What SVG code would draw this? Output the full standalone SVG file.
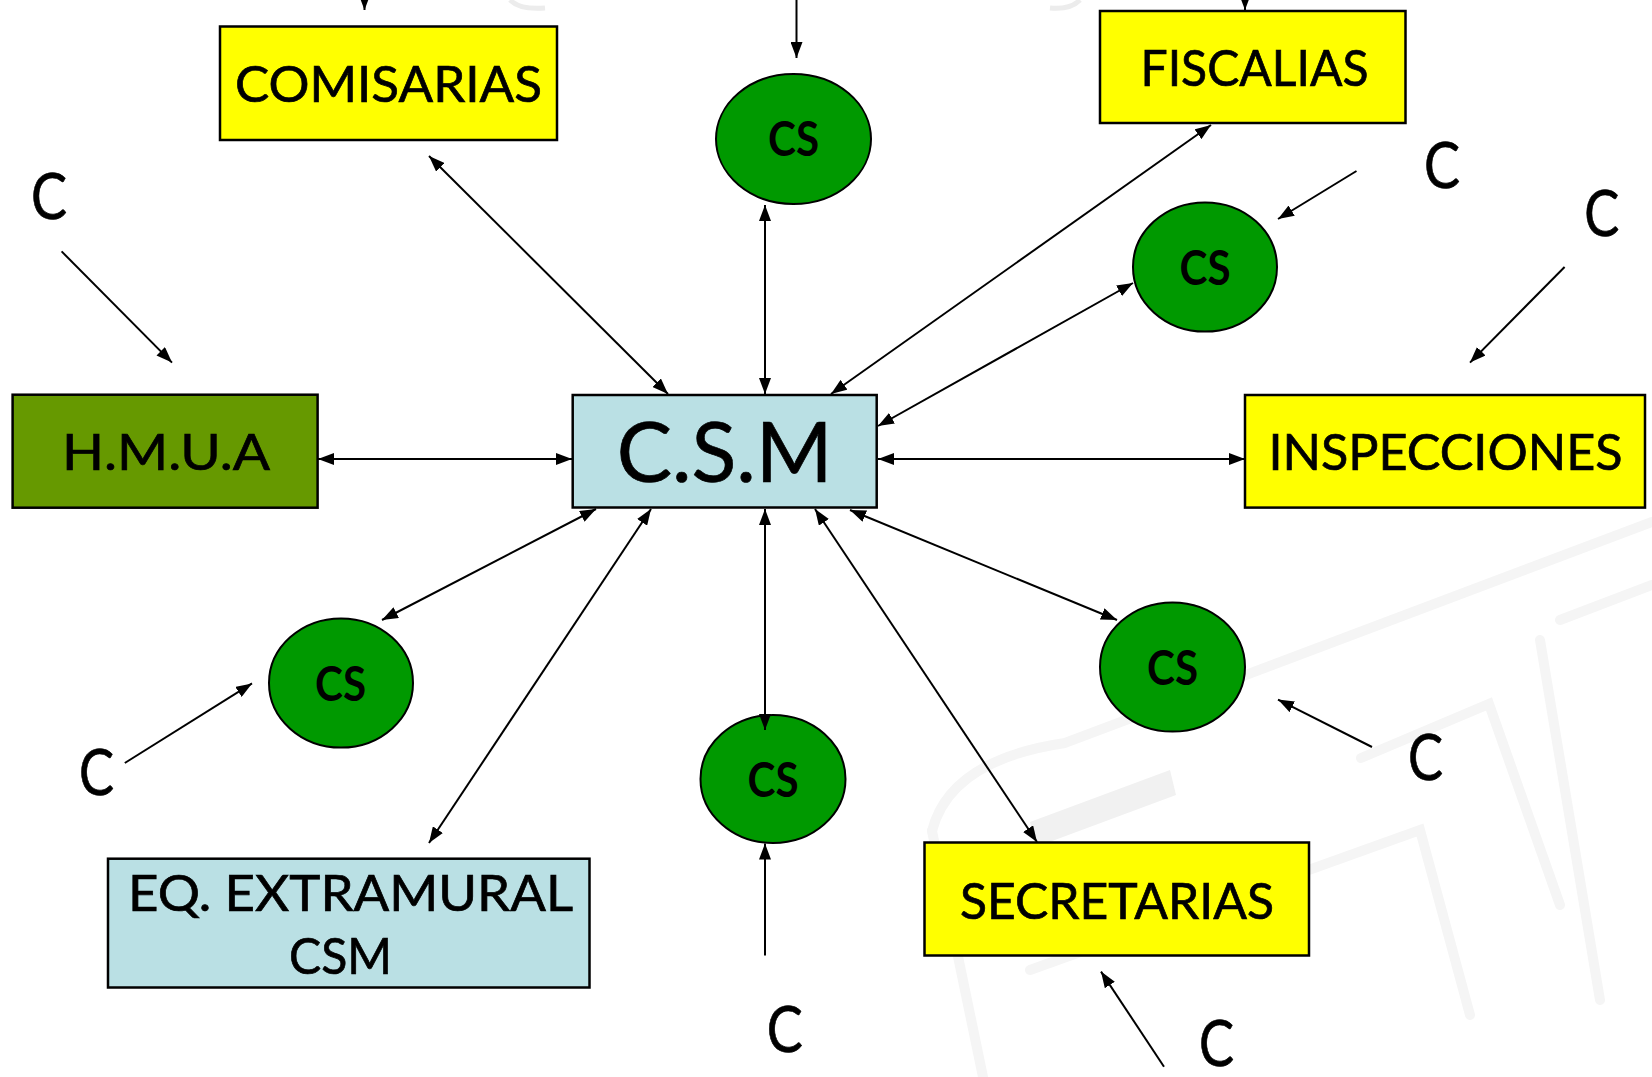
<svg xmlns="http://www.w3.org/2000/svg" width="1652" height="1077" viewBox="0 0 1652 1077">
<style>
.box{stroke:#000;stroke-width:2.5}
.yel{fill:#FFFF00}
.blue{fill:#BAE0E4}
.olive{fill:#669900}
.cs{fill:#009900;stroke:#000;stroke-width:2}
.t{font-family:Lato,"Open Sans",sans-serif;fill:#000;text-anchor:middle;stroke:#000;stroke-width:0.7}
.lbl{font-size:50px}
.cst{font-size:47px;font-weight:bold;stroke-width:0}
.c{font-size:64px}
.ln{stroke:#000;stroke-width:2;fill:none}
.wm{stroke:#f5f5f5;stroke-width:10;fill:none;stroke-linecap:round}
</style>
<defs>
<marker id="ah" viewBox="0 0 16 12" refX="16" refY="6" markerWidth="16" markerHeight="12" markerUnits="userSpaceOnUse" orient="auto-start-reverse">
<path d="M0,0 L16,6 L0,12 z" fill="#000"/>
</marker>
</defs>
<rect width="1652" height="1077" fill="#fff"/>
<g id="watermark">
<path class="wm" d="M932 831 Q950 760 1065 743 L1652 522"/>
<path class="wm" d="M932 831 L983 1077"/>
<path d="M1030 822 L1170 770 L1176 795 L1036 847 z" fill="#f1f1f1"/>
<path class="wm" d="M1361 758 L1489 704 L1560 905"/>
<path class="wm" d="M1030 970 L1420 830 L1470 1015"/>
<path class="wm" d="M1560 620 L1652 585"/>
<path class="wm" d="M1540 640 L1600 1000"/>
<path d="M510 0 Q520 10 545 8" stroke="#ececec" stroke-width="5" fill="none"/>
<path d="M1050 8 Q1070 10 1080 0" stroke="#ececec" stroke-width="5" fill="none"/>
</g>
<g id="comisarias">
<rect class="box yel" x="220" y="26.5" width="337" height="113.5"/>
<text class="t lbl" x="388.5" y="102" textLength="307" lengthAdjust="spacingAndGlyphs">COMISARIAS</text>
</g>
<g id="fiscalias">
<rect class="box yel" x="1100" y="11" width="305.5" height="112"/>
<text class="t lbl" x="1254.5" y="86" textLength="228" lengthAdjust="spacingAndGlyphs">FISCALIAS</text>
</g>
<g id="hmua">
<rect class="box olive" x="12.6" y="394.7" width="305" height="113"/>
<text class="t lbl" x="166" y="470" textLength="208" lengthAdjust="spacingAndGlyphs">H.M.U.A</text>
</g>
<g id="csm">
<rect class="box blue" x="572.7" y="395" width="304" height="112.5"/>
<text class="t" style="font-size:83px" x="724.7" y="481.7" textLength="216" lengthAdjust="spacingAndGlyphs">C.S.M</text>
</g>
<g id="inspecciones">
<rect class="box yel" x="1245" y="395" width="400" height="112.6"/>
<text class="t lbl" x="1445.5" y="470" textLength="354" lengthAdjust="spacingAndGlyphs">INSPECCIONES</text>
</g>
<g id="secretarias">
<rect class="box yel" x="924.5" y="842.5" width="384.5" height="113"/>
<text class="t lbl" x="1117" y="918.6" textLength="314" lengthAdjust="spacingAndGlyphs">SECRETARIAS</text>
</g>
<g id="extramural">
<rect class="box blue" x="108" y="858.7" width="481.5" height="128.8"/>
<text class="t lbl" x="350.5" y="910.7" textLength="445" lengthAdjust="spacingAndGlyphs">EQ. EXTRAMURAL</text>
<text class="t lbl" x="340.5" y="974" textLength="103" lengthAdjust="spacingAndGlyphs">CSM</text>
</g>
<g id="cs-top">
<ellipse class="cs" cx="793.5" cy="139" rx="77.5" ry="65"/>
<text class="t cst" x="793.5" y="156" textLength="51" lengthAdjust="spacingAndGlyphs">CS</text>
</g>
<g id="cs-upper-right">
<ellipse class="cs" cx="1205" cy="267" rx="72" ry="64.6"/>
<text class="t cst" x="1205" y="285" textLength="51" lengthAdjust="spacingAndGlyphs">CS</text>
</g>
<g id="cs-left">
<ellipse class="cs" cx="341" cy="683" rx="72" ry="64.6"/>
<text class="t cst" x="340.5" y="701" textLength="51" lengthAdjust="spacingAndGlyphs">CS</text>
</g>
<g id="cs-bottom">
<ellipse class="cs" cx="773" cy="779" rx="72.5" ry="64"/>
<text class="t cst" x="773" y="797" textLength="51" lengthAdjust="spacingAndGlyphs">CS</text>
</g>
<g id="cs-lower-right">
<ellipse class="cs" cx="1172.5" cy="667" rx="72.5" ry="64.6"/>
<text class="t cst" x="1172.5" y="685" textLength="51" lengthAdjust="spacingAndGlyphs">CS</text>
</g>
<g id="c-labels">
<text class="t c" x="49" y="219" textLength="36" lengthAdjust="spacingAndGlyphs">C</text>
<text class="t c" x="1442" y="188" textLength="36" lengthAdjust="spacingAndGlyphs">C</text>
<text class="t c" x="1601.7" y="236" textLength="35" lengthAdjust="spacingAndGlyphs">C</text>
<text class="t c" x="96.5" y="795" textLength="35" lengthAdjust="spacingAndGlyphs">C</text>
<text class="t c" x="784.8" y="1052" textLength="36" lengthAdjust="spacingAndGlyphs">C</text>
<text class="t c" x="1425.5" y="780" textLength="35" lengthAdjust="spacingAndGlyphs">C</text>
<text class="t c" x="1216.5" y="1066" textLength="35" lengthAdjust="spacingAndGlyphs">C</text>
</g>
<g id="connectors">
<line class="ln" x1="364.5" y1="-10" x2="364.5" y2="10" marker-end="url(#ah)"/>
<line class="ln" x1="796.5" y1="-10" x2="796.5" y2="58" marker-end="url(#ah)"/>
<line class="ln" x1="1245" y1="-10" x2="1245" y2="10" marker-end="url(#ah)"/>
<line class="ln" x1="429" y1="156" x2="668" y2="394" marker-start="url(#ah)" marker-end="url(#ah)"/>
<line class="ln" x1="765" y1="205" x2="765" y2="394" marker-start="url(#ah)" marker-end="url(#ah)"/>
<line class="ln" x1="1211" y1="125" x2="831" y2="394" marker-start="url(#ah)" marker-end="url(#ah)"/>
<line class="ln" x1="1133" y1="283" x2="878" y2="426" marker-start="url(#ah)" marker-end="url(#ah)"/>
<line class="ln" x1="318" y1="459" x2="572" y2="459" marker-start="url(#ah)" marker-end="url(#ah)"/>
<line class="ln" x1="878" y1="459" x2="1245" y2="459" marker-start="url(#ah)" marker-end="url(#ah)"/>
<line class="ln" x1="596" y1="509" x2="382" y2="620" marker-start="url(#ah)" marker-end="url(#ah)"/>
<line class="ln" x1="651" y1="509" x2="429" y2="843" marker-start="url(#ah)" marker-end="url(#ah)"/>
<line class="ln" x1="765" y1="509" x2="765" y2="730" marker-start="url(#ah)" marker-end="url(#ah)"/>
<line class="ln" x1="815" y1="509" x2="1037" y2="842" marker-start="url(#ah)" marker-end="url(#ah)"/>
<line class="ln" x1="850" y1="510" x2="1117" y2="620" marker-start="url(#ah)" marker-end="url(#ah)"/>
<line class="ln" x1="61.6" y1="251.4" x2="172" y2="362.6" marker-end="url(#ah)"/>
<line class="ln" x1="1356.5" y1="171" x2="1278" y2="219" marker-end="url(#ah)"/>
<line class="ln" x1="1564.6" y1="267" x2="1470" y2="362.6" marker-end="url(#ah)"/>
<line class="ln" x1="124.8" y1="763" x2="252" y2="683.4" marker-end="url(#ah)"/>
<line class="ln" x1="765" y1="955.5" x2="765" y2="843.5" marker-end="url(#ah)"/>
<line class="ln" x1="1372" y1="747" x2="1278" y2="699.6" marker-end="url(#ah)"/>
<line class="ln" x1="1164" y1="1066.7" x2="1101" y2="971.6" marker-end="url(#ah)"/>
</g>
</svg>
